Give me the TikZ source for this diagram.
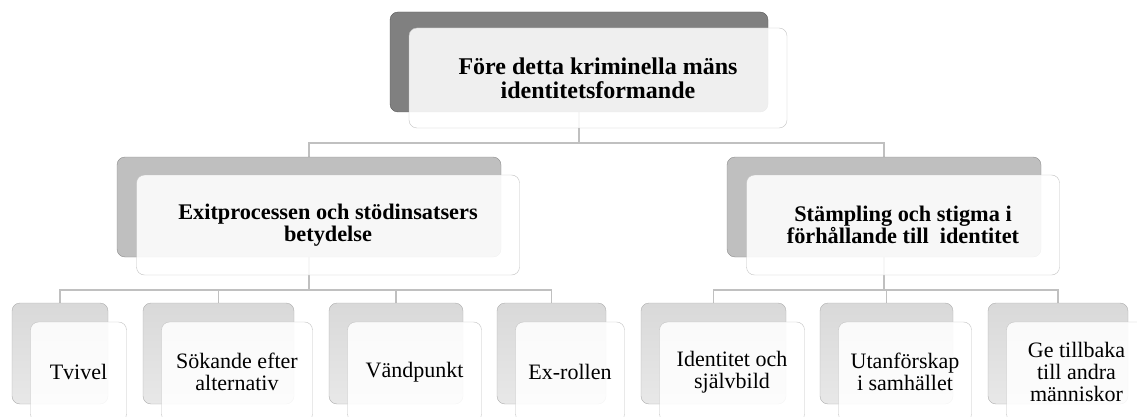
\documentclass[tikz,border=0pt]{standalone}
\usepackage{fontspec}
\setmainfont{Liberation Serif}
\usetikzlibrary{calc,positioning,backgrounds}
\definecolor{rootBack}{RGB}{128,128,128}
\definecolor{midBack}{RGB}{191,191,191}
\definecolor{leafBack}{RGB}{225,225,225}
\definecolor{frameGray}{RGB}{195,195,195}
\definecolor{linkGray}{RGB}{192,192,192}

\begin{document}
\begin{tikzpicture}[x=1pt, y=-1pt,
  every node/.style={inner sep=0pt, outer sep=0pt},
  card/.style={rectangle, rounded corners=8pt, minimum height=100pt},
  backroot/.style={card, fill=rootBack, draw=black!65},
  backmid/.style={card, fill=midBack, draw=black!45},
  backleaf/.style={card, top color=black!15, bottom color=black!9, draw=black!32, minimum height=101pt},
  front/.style={card, fill=white, fill opacity=0.88, text opacity=1, draw=frameGray, align=center},
  rootfont/.style={font=\fontsize{24}{24}\selectfont\bfseries},
  head/.style={font=\fontsize{22.3}{22}\selectfont\bfseries},
  leaf/.style={font=\fontsize{22}{22}\selectfont},
  link/.style={draw=linkGray, line width=1.6pt}]
  \useasboundingbox (0,0) rectangle (1137,417);

  % top level
  \node[backroot, minimum width=378pt] (rootB) at (579,62) {};
  \node[front, rootfont, minimum width=378pt] (root) at ($(rootB)+(19,16)$)
    {Före detta kriminella mäns\\identitetsformande};

  % second level
  \node[backmid, minimum width=384pt] (leftB) at (309,207) {};
  \node[front, head, minimum width=383pt] (left) at ($(leftB)+(19,18)$)
    {Exitprocessen och stödinsatsers\\betydelse};
  \node[backmid, minimum width=314pt] (rightB) at (884,207) {};
  \node[front, head, minimum width=313pt] (right) at ($(rightB)+(19,18)$)
    {Stämpling och stigma i\\förhållande till~\ identitet};

  % third level
  \foreach \id/\cx/\w/\txt in {tvivel/60/96/Tvivel,
      sokande/218.5/151/{Sökande efter\\alternativ},
      vand/396/134/Vändpunkt,
      exroll/551.5/109/Ex-rollen,
      ident/713.5/145/{Identitet och\\självbild},
      utanfor/886.5/133/{Utanförskap\\i samhället},
      tillbaka/1058/140/{Ge tillbaka\\till andra\\människor}} {
    \node[backleaf, minimum width=\w pt] (\id B) at (\cx,353.5) {};
    \node[front, leaf, minimum width=\w pt] (\id) at ($(\id B)+(18.5,18.5)$) {\txt};
  }

  % connectors behind the cards
  \begin{scope}[on background layer]
    \coordinate (forkTop) at (579,143);
    \coordinate (forkL) at (309,290);
    \coordinate (forkR) at (884,290);
    \draw[link] (rootB.south) -- (forkTop) -| (leftB.north);
    \draw[link] (forkTop) -| (rightB.north);
    \draw[link] (leftB.south) -- (forkL);
    \draw[link] (rightB.south) -- (forkR);
    \foreach \id in {tvivel,sokande,vand,exroll}
      \draw[link] (forkL) -| (\id B.north);
    \foreach \id in {ident,utanfor,tillbaka}
      \draw[link] (forkR) -| (\id B.north);
  \end{scope}
\end{tikzpicture}
\end{document}
